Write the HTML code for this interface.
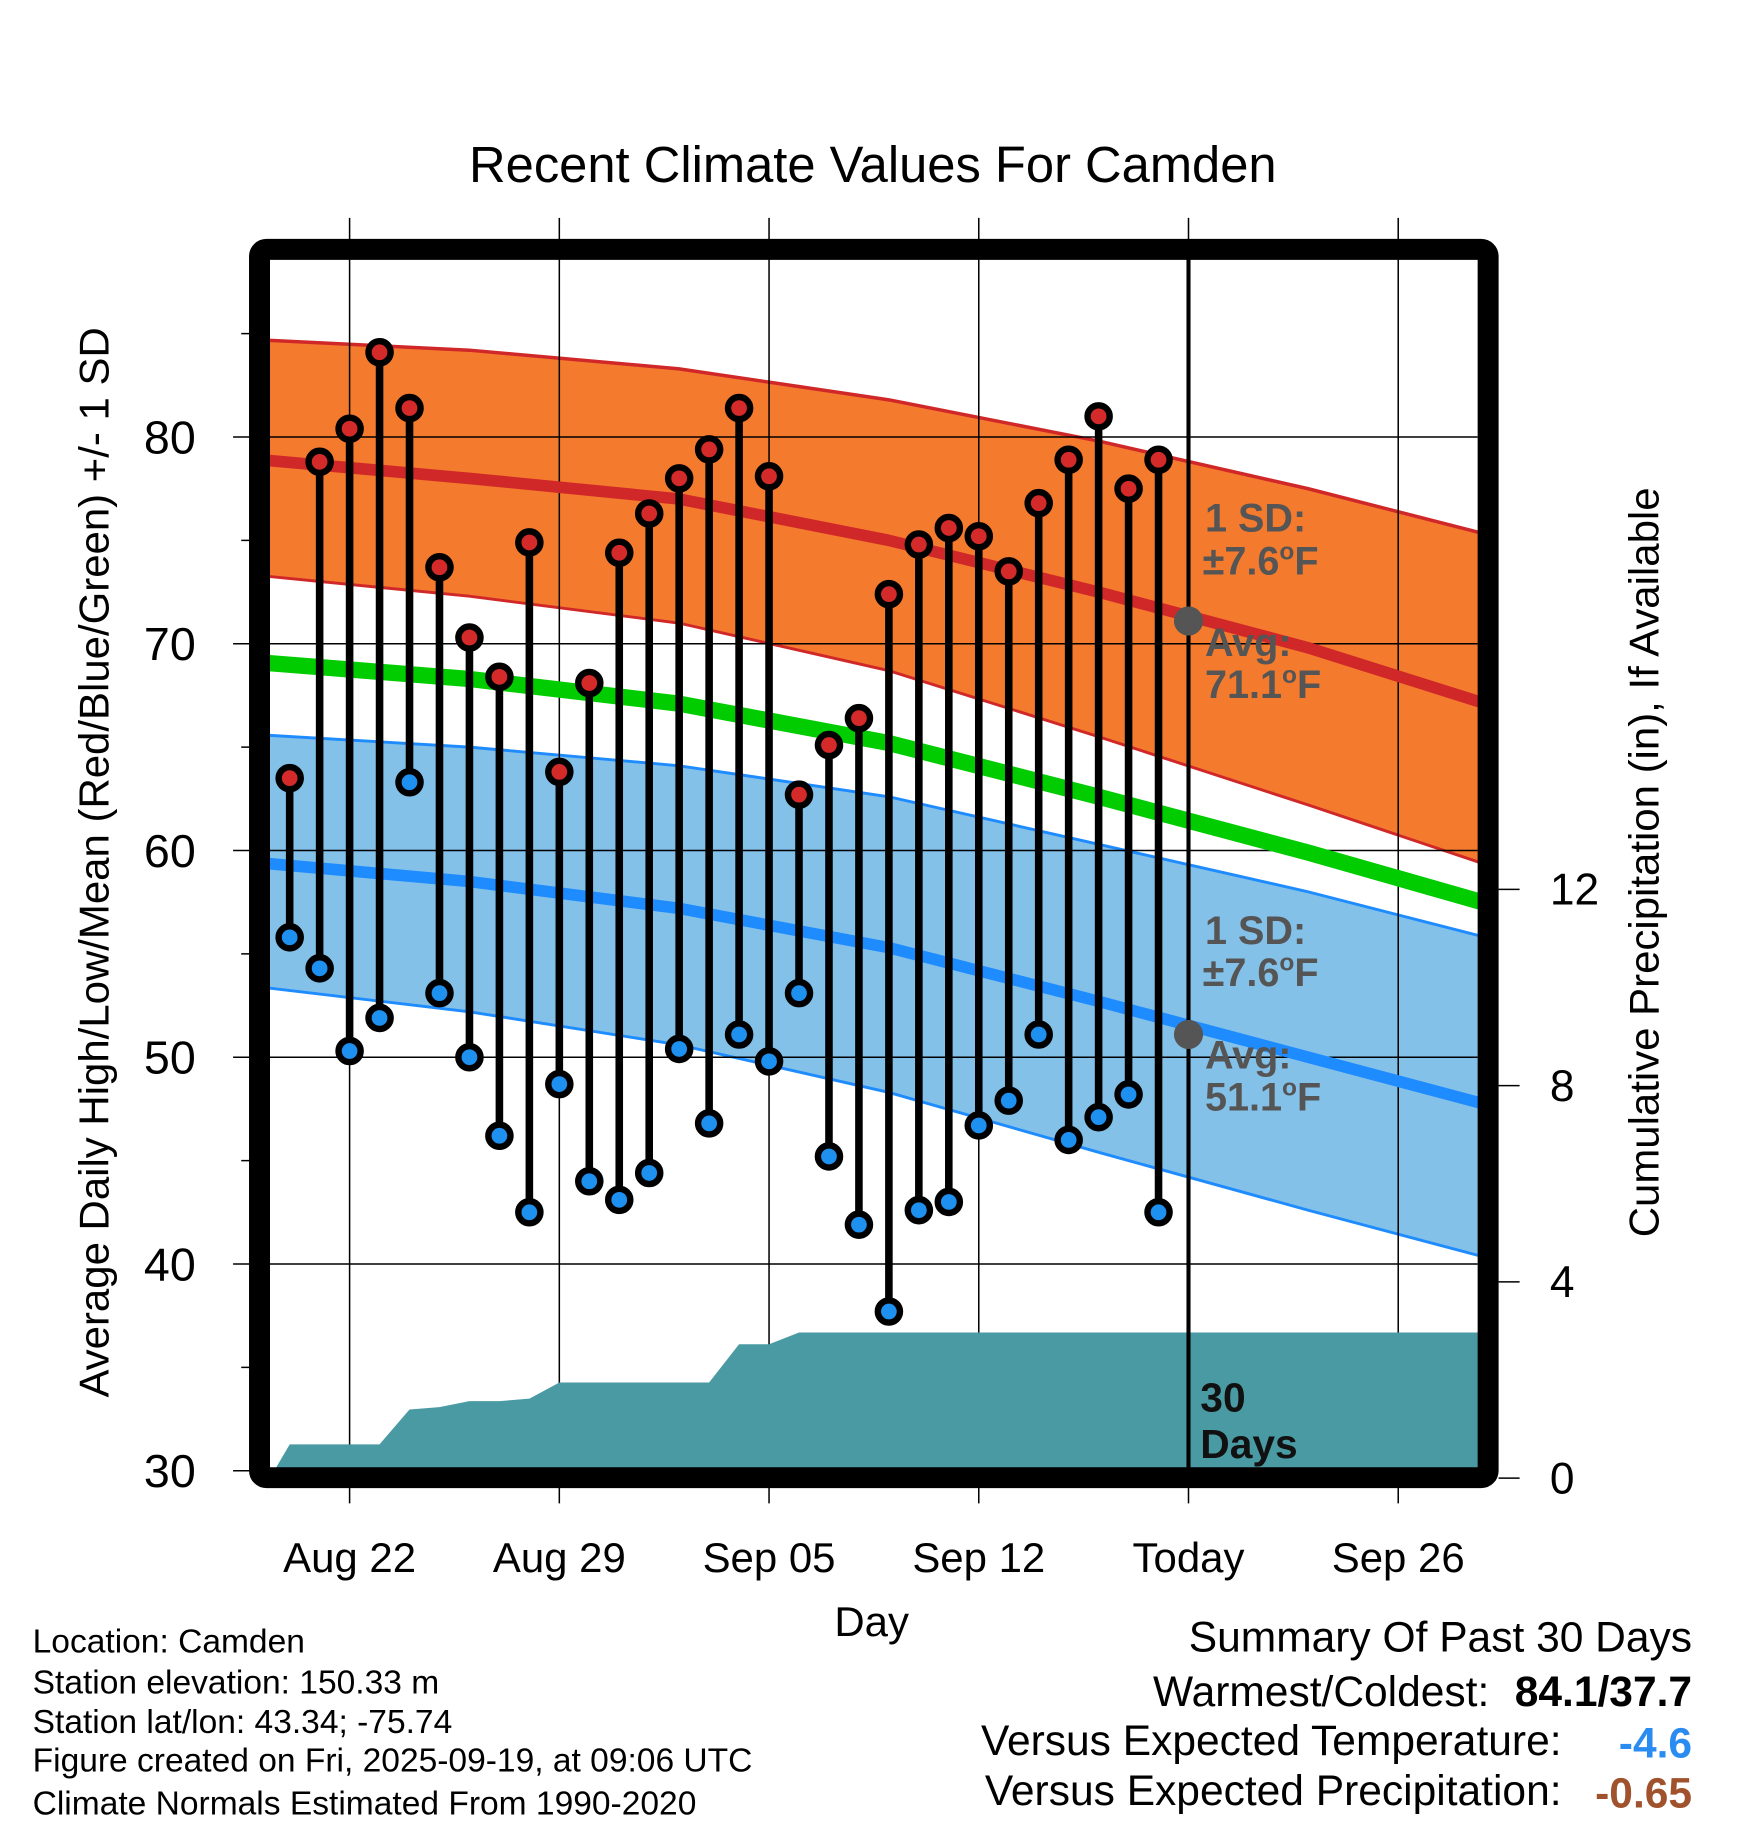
<!DOCTYPE html>
<html><head><meta charset="utf-8"><style>
html,body{margin:0;padding:0;background:#fff;}
svg{display:block;font-family:"Liberation Sans",sans-serif;}
</style></head><body>
<svg id="chart" width="1748" height="1828" viewBox="0 0 1500 1568.6" preserveAspectRatio="none" xmlns="http://www.w3.org/2000/svg">
<defs><clipPath id="plotclip"><rect x="231.7" y="223" width="1036.7" height="1037"/></clipPath></defs>
<text x="749" y="156" font-size="43.5" text-anchor="middle">Recent Climate Values For Camden</text>
<g id="plot" clip-path="url(#plotclip)"></g>
<g id="grid"></g>
<g id="plot2" clip-path="url(#plotclip)"></g>
<g id="marks"></g>
<rect x="222.7" y="214" width="1054.3" height="1054" rx="6" fill="none" stroke="#000" stroke-width="18"/>
<g id="axes"></g>
<text transform="translate(93,740) rotate(-90)" font-size="36" text-anchor="middle">Average Daily High/Low/Mean (Red/Blue/Green) +/- 1 SD</text>
<text transform="translate(1423,740) rotate(-90)" font-size="36" text-anchor="middle">Cumulative Precipitation (in), If Available</text>
<text x="748" y="1404" font-size="36" text-anchor="middle">Day</text>
<g font-size="34" font-weight="bold" fill="#555">
<text x="1034" y="456">1 SD:</text>
<text x="1032" y="493">±7.6<tspan font-size="21" dy="-13">o</tspan><tspan dy="13">F</tspan></text>
<text x="1034" y="563">Avg:</text>
<text x="1034" y="599">71.1<tspan font-size="21" dy="-13">o</tspan><tspan dy="13">F</tspan></text>
</g>
<g font-size="34" font-weight="bold" fill="#555">
<text x="1034" y="810">1 SD:</text>
<text x="1032" y="846">±7.6<tspan font-size="21" dy="-13">o</tspan><tspan dy="13">F</tspan></text>
<text x="1034" y="917">Avg:</text>
<text x="1034" y="953">51.1<tspan font-size="21" dy="-13">o</tspan><tspan dy="13">F</tspan></text>
</g>
<g font-size="35" font-weight="bold" fill="#111">
<text x="1030" y="1211">30</text><text x="1030" y="1251">Days</text>
</g>
<g font-size="28.8">
<text x="28" y="1418">Location: Camden</text>
<text x="28" y="1453">Station elevation: 150.33 m</text>
<text x="28" y="1487">Station lat/lon: 43.34; -75.74</text>
<text x="28" y="1520">Figure created on Fri, 2025-09-19, at 09:06 UTC</text>
<text x="28" y="1557">Climate Normals Estimated From 1990-2020</text>
</g>
<g font-size="36.5">
<text x="1452" y="1417" text-anchor="end">Summary Of Past 30 Days</text>
<text x="1278" y="1464" text-anchor="end">Warmest/Coldest:</text>
<text x="1452" y="1464" text-anchor="end" font-weight="bold">84.1/37.7</text>
<text x="1340" y="1506" text-anchor="end">Versus Expected Temperature:</text>
<text x="1452" y="1508" text-anchor="end" font-weight="bold" fill="#2a8cf0">-4.6</text>
<text x="1340" y="1549" text-anchor="end">Versus Expected Precipitation:</text>
<text x="1452" y="1551" text-anchor="end" font-weight="bold" fill="#a0522d">-0.65</text>
</g>
</svg>
<script>
// ---- data ----
const days = ["Aug 20","Aug 21","Aug 22","Aug 23","Aug 24","Aug 25","Aug 26","Aug 27","Aug 28","Aug 29","Aug 30","Aug 31","Sep 01","Sep 02","Sep 03","Sep 04","Sep 05","Sep 06","Sep 07","Sep 08","Sep 09","Sep 10","Sep 11","Sep 12","Sep 13","Sep 14","Sep 15","Sep 16","Sep 17","Sep 18"];
const highs = [63.5,78.8,80.4,84.1,81.4,73.7,70.3,68.4,74.9,63.8,68.1,74.4,76.3,78.0,79.4,81.4,78.1,62.7,65.1,66.4,72.4,74.8,75.6,75.2,73.5,76.8,78.9,81.0,77.5,78.9];
const lows = [55.8,54.3,50.3,51.9,63.3,53.1,50.0,46.2,42.5,48.7,44.0,43.1,44.4,50.4,46.8,51.1,49.8,53.1,45.2,41.9,37.7,42.6,43.0,46.7,47.9,51.1,46.0,47.1,48.2,42.5];
const precipCum = [0.69,0.69,0.69,0.69,1.40,1.45,1.57,1.57,1.62,1.95,1.95,1.95,1.95,1.95,1.95,2.73,2.73,2.97,2.97,2.97,2.97,2.97,2.97,2.97,2.97,2.97,2.97,2.97,2.97,2.97];
const normDays = [-3,4,11,18,25,32,39]; // days relative to Aug 22
const normHigh = [78.9,78.0,77.0,75.0,72.5,69.8,66.6];
const normHighUp = [84.7,84.2,83.3,81.8,79.8,77.5,74.9];
const normHighDn = [73.3,72.3,71.0,68.7,65.5,62.2,58.8];
const normLow = [59.4,58.5,57.2,55.3,52.7,50.0,47.3];
const normLowUp = [65.6,65.0,64.1,62.6,60.3,58.0,55.4];
const normLowDn = [53.4,52.2,50.6,48.3,45.4,42.6,39.9];
const normMean = [69.1,68.3,67.1,65.2,62.6,59.9,57.0];
const xTickDays = [0,7,14,21,28,35];
const xTickLabels = ["Aug 22","Aug 29","Sep 05","Sep 12","Today","Sep 26"];
const yTicks = [30,40,50,60,70,80];
const yMinor = [35,45,55,65,75,85];
const y2Ticks = [0,4,8,12];
const todayDay = 28, todayHigh = 71.1, todayLow = 51.1;
const firstDay = -2;

// ---- scales ----
const X = d => 300 + 25.71 * d;
const Y = v => 1262 - (v - 30) * 17.74;
const Y2 = p => 1268.4 - p * 42.1;
const NS = "http://www.w3.org/2000/svg";
function mk(tag, attrs, parent){const e=document.createElementNS(NS,tag);for(const k in attrs)e.setAttribute(k,attrs[k]);parent.appendChild(e);return e;}
const plot=document.getElementById('plot'), plot2=document.getElementById('plot2'), grid=document.getElementById('grid'), marks=document.getElementById('marks'), axes=document.getElementById('axes');
const pts = arr => normDays.map((d,i)=>X(d).toFixed(1)+','+Y(arr[i]).toFixed(1));

let e;
e=mk('polygon',{points:pts(normHighUp).concat(pts(normHighDn).reverse()).join(' '),fill:'#f47a2e'},plot);


e=mk('polygon',{points:pts(normLowUp).concat(pts(normLowDn).reverse()).join(' '),fill:'#84c1e9'},plot);


e=mk('polyline',{points:pts(normHighUp).join(' '),fill:'none',stroke:'#d02828','stroke-width':3},plot);


e=mk('polyline',{points:pts(normHighDn).join(' '),fill:'none',stroke:'#d02828','stroke-width':2.5},plot);


e=mk('polyline',{points:pts(normLowUp).join(' '),fill:'none',stroke:'#1e8cff','stroke-width':2.5},plot);


e=mk('polyline',{points:pts(normLowDn).join(' '),fill:'none',stroke:'#1e8cff','stroke-width':2.5},plot);



// gridlines
xTickDays.forEach(d=>{
  const l=mk('line',{x1:X(d),x2:X(d),y1:187,y2:1290,stroke:'#000','stroke-width':1.3},grid);
  
  
});
yTicks.forEach(v=>{
  const l=mk('line',{x1:200,x2:1268,y1:Y(v),y2:Y(v),stroke:'#000','stroke-width':1.3},grid);
  
  
});
yMinor.forEach(v=>{
  const l=mk('line',{x1:207,x2:222,y1:Y(v),y2:Y(v),stroke:'#000','stroke-width':1.3},grid);
  
  
});

e=mk('polyline',{points:pts(normMean).join(' '),fill:'none',stroke:'#00cc00','stroke-width':14},plot2);


e=mk('polyline',{points:pts(normHigh).join(' '),fill:'none',stroke:'#d02828','stroke-width':10},plot2);


e=mk('polyline',{points:pts(normLow).join(' '),fill:'none',stroke:'#1e8cff','stroke-width':10},plot2);



// precipitation area
let pp=[X(firstDay-0.66).toFixed(1)+','+Y2(0)];
precipCum.forEach((p,i)=>pp.push(X(firstDay+i).toFixed(1)+','+Y2(p).toFixed(1)));
pp.push(X(37.7).toFixed(1)+','+Y2(precipCum[precipCum.length-1]).toFixed(1));
pp.push(X(37.7).toFixed(1)+','+Y2(0));
e=mk('polygon',{points:pp.join(' '),fill:'#4a9aa4'},plot2);



// today line
e=mk('line',{x1:X(todayDay),x2:X(todayDay),y1:214,y2:1268,stroke:'#000','stroke-width':3.5},marks);



// stems & dots
days.forEach((d,i)=>{
  const x=X(firstDay+i);
  const s=mk('line',{x1:x,x2:x,y1:Y(highs[i]),y2:Y(lows[i]),stroke:'#000','stroke-width':6.5},marks);
  
  
});
days.forEach((d,i)=>{
  const x=X(firstDay+i);
  const h=mk('circle',{cx:x,cy:Y(highs[i]),r:9.5,fill:'#d42a2a',stroke:'#000','stroke-width':5.5},marks);
  
  
  const lo=mk('circle',{cx:x,cy:Y(lows[i]),r:9.5,fill:'#1e90f0',stroke:'#000','stroke-width':5.5},marks);
  
  
});
e=mk('circle',{cx:X(todayDay),cy:Y(todayHigh),r:12.5,fill:'#555'},marks);


e=mk('circle',{cx:X(todayDay),cy:Y(todayLow),r:12.5,fill:'#555'},marks);



// axes labels
xTickDays.forEach((d,i)=>{
  const t=mk('text',{x:X(d),y:1349,'font-size':36,'text-anchor':'middle'},axes);
  t.textContent=xTickLabels[i];
  
  
});
yTicks.forEach(v=>{
  const t=mk('text',{x:168,y:Y(v)+14,'font-size':40,'text-anchor':'end'},axes);
  t.textContent=v;
  
  
});
y2Ticks.forEach(p=>{
  const l=mk('line',{x1:1286,x2:1304,y1:Y2(p),y2:Y2(p),stroke:'#000','stroke-width':1.3},axes);
  
  
  const t=mk('text',{x:1330,y:Y2(p)+13,'font-size':38},axes);
  t.textContent=p;
  
  
});
</script>
</body></html>
